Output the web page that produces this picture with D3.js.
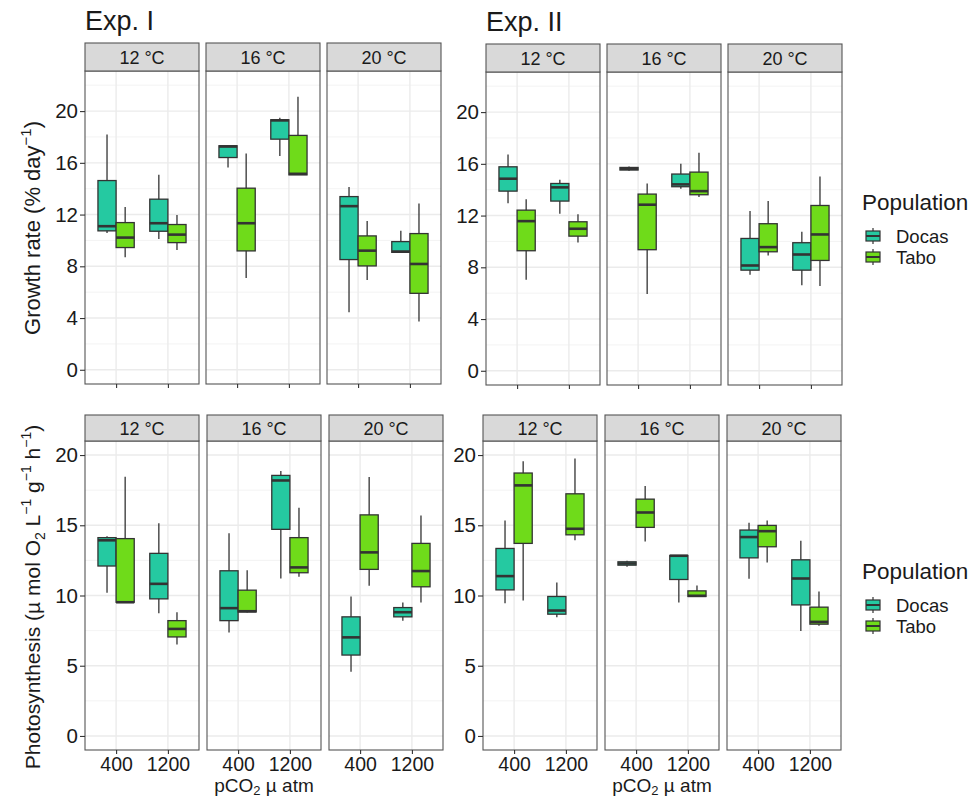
<!DOCTYPE html>
<html>
<head>
<meta charset="utf-8">
<script src="https://cdn.jsdelivr.net/npm/d3@7"></script>
<style>
  body { margin: 0; background: #fff; }
  text { font-family: "Liberation Sans", Arial, sans-serif; fill: #1a1a1a; }
</style>
</head>
<body>
<svg id="chart" width="977" height="798"></svg>
<script>
const temps = ["12 °C", "16 °C", "20 °C"];
const co2Levels = ["400", "1200"];
const populations = ["Docas", "Tabo"];
const popColors = ["#25C9A1", "#6FDB1A"];

const growthTicks = [0, 4, 8, 12, 16, 20];
const growthMinor = [2, 6, 10, 14, 18, 22];
const photoTicks = [0, 5, 10, 15, 20];
const photoMinor = [2.5, 7.5, 12.5, 17.5];

// [min, q1, median, q3, max] per box, order: temp > pCO2 > population
const growthExpI = [
  [10.58, 10.74, 11.10, 14.63, 18.19],
  [8.70, 9.45, 10.22, 11.38, 12.59],
  [10.12, 10.71, 11.33, 13.19, 15.07],
  [9.26, 9.83, 10.45, 11.23, 11.97],
  [15.64, 16.41, 17.26, 17.32, 17.32],
  [7.10, 9.19, 11.33, 14.04, 16.72],
  [16.52, 17.83, 19.28, 19.33, 19.48],
  [15.07, 15.07, 15.15, 18.12, 21.11],
  [4.44, 8.52, 12.65, 13.39, 14.14],
  [6.94, 8.03, 9.21, 10.35, 11.51],
  [9.08, 9.08, 9.14, 9.91, 10.74],
  [3.74, 5.91, 8.18, 10.53, 12.85]
];
const growthExpII = [
  [12.96, 13.89, 14.85, 15.77, 16.73],
  [7.04, 9.28, 11.57, 12.42, 13.27],
  [12.14, 13.12, 14.18, 14.48, 14.77],
  [9.92, 10.41, 10.98, 11.52, 12.11],
  [15.46, 15.52, 15.62, 15.72, 15.80],
  [5.93, 9.36, 12.84, 13.66, 14.48],
  [14.07, 14.23, 14.41, 15.21, 16.00],
  [13.43, 13.61, 13.89, 15.36, 16.86],
  [7.42, 7.78, 8.14, 10.23, 12.35],
  [8.92, 9.20, 9.56, 11.37, 13.12],
  [6.62, 7.78, 8.99, 9.90, 10.75],
  [6.55, 8.53, 10.54, 12.78, 15.03]
];
const photoExpI = [
  [10.19, 12.10, 13.93, 14.12, 14.21],
  [9.52, 9.52, 9.52, 14.05, 18.45],
  [8.74, 9.76, 10.83, 13.00, 15.14],
  [6.52, 7.05, 7.62, 8.21, 8.81],
  [7.36, 8.21, 9.10, 11.76, 14.43],
  [8.79, 8.83, 8.88, 10.38, 11.79],
  [11.21, 14.71, 18.19, 18.55, 18.86],
  [11.33, 11.62, 12.00, 14.12, 16.24],
  [4.57, 5.76, 7.02, 8.48, 9.93],
  [10.69, 11.86, 13.07, 15.74, 18.43],
  [8.21, 8.48, 8.81, 9.14, 9.50],
  [9.50, 10.62, 11.74, 13.71, 15.69]
];
const photoExpII = [
  [9.45, 10.40, 11.38, 13.35, 15.34],
  [9.64, 13.71, 17.84, 18.72, 19.55],
  [8.46, 8.67, 8.93, 9.93, 10.93],
  [13.94, 14.32, 14.75, 17.24, 19.76],
  [12.04, 12.16, 12.28, 12.40, 12.47],
  [13.85, 14.85, 15.91, 16.86, 17.79],
  [9.50, 11.14, 12.83, 12.85, 12.87],
  [9.93, 9.93, 9.98, 10.33, 10.71],
  [11.19, 12.68, 14.16, 14.66, 15.18],
  [12.35, 13.47, 14.58, 14.99, 15.34],
  [7.48, 9.33, 11.21, 12.54, 13.90],
  [7.84, 7.96, 8.12, 9.17, 10.29]
];

const svg = d3.select("#chart");
const panelW = 114;

const blocks = [
  { data: growthExpI, ticks: growthTicks, minor: growthMinor, domain: [-1.1, 23.1],
    x0s: [85, 206, 327], stripTop: 43, top: 71, bottom: 384, title: "Exp. I", xLabels: false },
  { data: growthExpII, ticks: growthTicks, minor: growthMinor, domain: [-1.1, 23.1],
    x0s: [486, 607, 728], stripTop: 44, top: 72, bottom: 385, title: "Exp. II", xLabels: false },
  { data: photoExpI, ticks: photoTicks, minor: photoMinor, domain: [-1, 21],
    x0s: [85, 207, 329], stripTop: 415, top: 441, bottom: 750, xLabels: true },
  { data: photoExpII, ticks: photoTicks, minor: photoMinor, domain: [-1, 21],
    x0s: [483, 605, 727], stripTop: 415, top: 441, bottom: 750, xLabels: true }
];

const drawBlock = (b) => {
  const y = d3.scaleLinear().domain(b.domain).range([b.bottom, b.top]);

  if (b.title) {
    svg.append("text")
      .attr("x", b.x0s[0])
      .attr("y", b.stripTop - 13)
      .style("font-size", "27px")
      .text(b.title);
  }

  temps.forEach((temp, t) => {
    const x0 = b.x0s[t];
    const x = d3.scalePoint().domain(co2Levels).range([x0, x0 + panelW]).padding(0.6);
    const step = x.step();
    const dodge = d3.scaleBand().domain(populations).range([-0.35 * step, 0.35 * step]);
    const g = svg.append("g");

    // grid
    g.selectAll(".minor").data(b.minor).enter().append("line")
      .attr("x1", x0).attr("x2", x0 + panelW)
      .attr("y1", (d) => y(d)).attr("y2", (d) => y(d))
      .attr("stroke", "#F0F0F0").attr("stroke-width", 0.8);
    g.selectAll(".major").data(b.ticks).enter().append("line")
      .attr("x1", x0).attr("x2", x0 + panelW)
      .attr("y1", (d) => y(d)).attr("y2", (d) => y(d))
      .attr("stroke", "#EBEBEB").attr("stroke-width", 1.4);
    g.selectAll(".vgrid").data(co2Levels).enter().append("line")
      .attr("x1", (d) => x(d)).attr("x2", (d) => x(d))
      .attr("y1", b.top).attr("y2", b.bottom)
      .attr("stroke", "#EBEBEB").attr("stroke-width", 1.4);

    // boxes
    co2Levels.forEach((c, ci) => {
      populations.forEach((p, pi) => {
        const d = b.data[t * 4 + ci * 2 + pi];
        const cx = x(c) + dodge(p) + dodge.bandwidth() / 2;
        const bw = dodge.bandwidth();
        g.append("line")
          .attr("x1", cx).attr("x2", cx)
          .attr("y1", y(d[0])).attr("y2", y(d[4]))
          .attr("stroke", "#333").attr("stroke-width", 1.3);
        g.append("rect")
          .attr("x", cx - bw / 2).attr("width", bw)
          .attr("y", y(d[3])).attr("height", y(d[1]) - y(d[3]))
          .attr("fill", popColors[pi])
          .attr("stroke", "#333").attr("stroke-width", 1.3);
        g.append("line")
          .attr("x1", cx - bw / 2).attr("x2", cx + bw / 2)
          .attr("y1", y(d[2])).attr("y2", y(d[2]))
          .attr("stroke", "#333").attr("stroke-width", 2.6);
      });
    });

    // panel border
    g.append("rect")
      .attr("x", x0).attr("y", b.top)
      .attr("width", panelW).attr("height", b.bottom - b.top)
      .attr("fill", "none").attr("stroke", "#555").attr("stroke-width", 1.1);

    // strip
    g.append("rect")
      .attr("x", x0).attr("y", b.stripTop)
      .attr("width", panelW).attr("height", b.top - b.stripTop)
      .attr("fill", "#D9D9D9").attr("stroke", "#555").attr("stroke-width", 1.1);
    g.append("text")
      .attr("x", x0 + panelW / 2)
      .attr("y", (b.stripTop + b.top) / 2 + 6.5)
      .attr("text-anchor", "middle")
      .style("font-size", "18px")
      .text(temp);

    // x axis
    const xAxis = g.append("g")
      .attr("transform", `translate(0,${b.bottom})`)
      .call(d3.axisBottom(x).tickSize(4).tickPadding(3)
        .tickFormat((d) => (b.xLabels ? d : "")));
    xAxis.select(".domain").remove();
    xAxis.selectAll("line").attr("stroke", "#333").attr("stroke-width", 1.1);
    xAxis.selectAll("text").style("font-size", "19.5px").attr("fill", "#1a1a1a");

    // y axis on the first panel only
    if (t === 0) {
      const yAxis = g.append("g")
        .attr("transform", `translate(${x0},0)`)
        .call(d3.axisLeft(y).tickValues(b.ticks).tickSize(5).tickPadding(2));
      yAxis.select(".domain").remove();
      yAxis.selectAll("line").attr("stroke", "#333").attr("stroke-width", 1.1);
      yAxis.selectAll("text").style("font-size", "20.5px").attr("fill", "#1a1a1a");
    }

    if (b.xLabels && t === 1) {
      const lab = svg.append("text")
        .attr("x", x0 + panelW / 2)
        .attr("y", 792)
        .attr("text-anchor", "middle")
        .style("font-size", "19px");
      lab.append("tspan").text("pCO");
      lab.append("tspan").attr("dy", 3).style("font-size", "13px").text("2");
      lab.append("tspan").attr("dy", -3).text(" µ atm");
    }
  });
};

blocks.forEach(drawBlock);

// y axis titles
const growthTitle = svg.append("text")
  .attr("transform", "translate(40,228) rotate(-90)")
  .attr("text-anchor", "middle")
  .style("font-size", "22px");
growthTitle.append("tspan").text("Growth rate (% day");
growthTitle.append("tspan").attr("dy", -9).style("font-size", "15px").text("−1");
growthTitle.append("tspan").attr("dy", 9).text(")");

const photoTitle = svg.append("text")
  .attr("transform", "translate(39.5,597) rotate(-90)")
  .attr("text-anchor", "middle")
  .style("font-size", "21px");
const parts = [
  ["Photosynthesis (µ mol O", 0, null],
  ["2", 5, "sub"],
  [" L", -5, null],
  ["−1", -9, "sup"],
  [" g", 9, null],
  ["−1", -9, "sup"],
  [" h", 9, null],
  ["−1", -9, "sup"],
  [")", 9, null]
];
parts.forEach(([txt, dy, kind]) => {
  const ts = photoTitle.append("tspan").attr("dy", dy).text(txt);
  kind && ts.style("font-size", "14px");
});

// legends
const drawLegend = (top) => {
  const lg = svg.append("g").attr("transform", `translate(862,${top})`);
  lg.append("text").attr("x", 0).attr("y", 0).style("font-size", "22.5px").text("Population");
  populations.forEach((p, i) => {
    const cy = 26 + i * 21;
    lg.append("line")
      .attr("x1", 11).attr("x2", 11).attr("y1", cy - 8).attr("y2", cy + 8)
      .attr("stroke", "#333").attr("stroke-width", 1.2);
    lg.append("rect")
      .attr("x", 4).attr("y", cy - 5).attr("width", 14).attr("height", 10)
      .attr("fill", popColors[i]).attr("stroke", "#333").attr("stroke-width", 1.2);
    lg.append("line")
      .attr("x1", 4).attr("x2", 18).attr("y1", cy).attr("y2", cy)
      .attr("stroke", "#333").attr("stroke-width", 2);
    lg.append("text").attr("x", 34).attr("y", cy + 6.5).style("font-size", "18.5px").text(p);
  });
};
drawLegend(210);
drawLegend(579);
</script>
</body>
</html>
